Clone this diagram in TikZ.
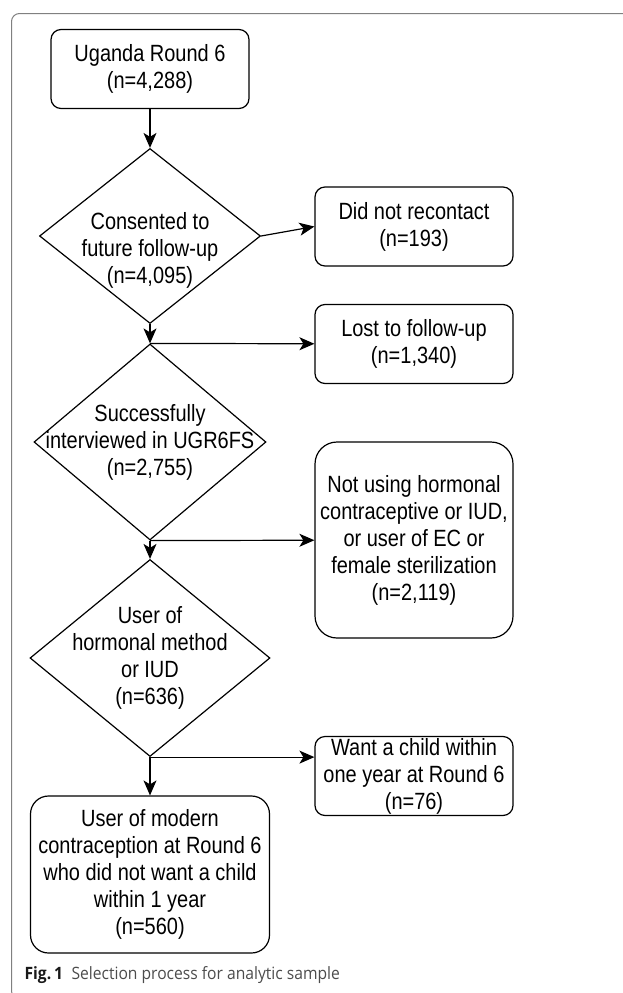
\documentclass[tikz,border=0pt]{standalone}
\usepackage{fontspec}
\newfontfamily\chartfont{Liberation Sans}[FakeStretch=0.85]
\newfontfamily\capfont{Open Sans}[FakeStretch=0.92]
\usetikzlibrary{shapes.geometric, arrows.meta, positioning}

\begin{document}
\begin{tikzpicture}[x=1pt, y=1pt, on grid, auto, line width=1.2pt,
    >={Stealth[length=15pt, width=13pt, inset=4pt]},
    txt/.style={align=center, inner sep=0pt, font=\chartfont\fontsize{23.5}{27}\selectfont},
    box/.style={txt, draw, rounded corners=10pt, minimum width=198pt, minimum height=79pt},
    decision/.style={draw, diamond, inner sep=0pt, aspect=1}]
  \useasboundingbox (0,0) rectangle (622,-993);
  \draw[gray, line width=1pt, rounded corners=8pt] (11.5,-13.5) rectangle (680,-999);

  \node[box] (r6) at (150,-69) {Uganda Round 6\\(n=4,288)};
  \node[decision, minimum width=221pt, minimum height=175pt,
    label={[txt, yshift=-14pt]center:Consented to\\future follow-up\\(n=4,095)}] (d1) [below=167pt of r6] {};
  \node[decision, minimum width=232pt, minimum height=196pt,
    label={[txt]center:Successfully\\interviewed in UGR6FS\\(n=2,755)}] (d2) [below=206pt of d1] {};
  \node[decision, minimum width=240pt, minimum height=197pt,
    label={[txt]center:User of\\hormonal method\\or IUD\\(n=636)}] (d3) [below=216pt of d2] {};
  \node[box, minimum width=239pt, minimum height=157pt, rounded corners=18pt] (final) [below=216.5pt of d3]
    {User of modern\\contraception at Round 6\\who did not want a child\\within 1 year\\(n=560)};

  \node[box] (recontact) [above right=9.5pt and 264pt of d1] {Did not recontact\\(n=193)};
  \node[box] (lost) [above right=98pt and 264pt of d2] {Lost to follow-up\\(n=1,340)};
  \node[box, minimum height=196pt, rounded corners=22pt] (notusing) [below right=98pt and 264pt of d2]
    {Not using hormonal\\contraceptive or IUD,\\or user of EC or\\female sterilization\\(n=2,119)};
  \node[box] (want) [below right=118pt and 264pt of d3] {Want a child within\\one year at Round 6\\(n=76)};
  \coordinate (wantin) at (d3.south -| want.west);

  \path[->]
  (r6) edge (d1)
  (d1) edge (d2)
  (d2) edge (d3)
  (d3) edge (final)
  (d1.east) edge (recontact.west)
  (d2.north) edge (lost)
  (d2.south) edge (notusing)
  (d3.south) edge (wantin);

  \node[anchor=base west, inner sep=0pt, font=\capfont\fontsize{17}{20}\selectfont, text=black!70] (caption) at (24,-979)
    {{\bfseries\color{black!90}Fig.\,1}\hspace{0.5em}Selection process for analytic sample};
\end{tikzpicture}
\end{document}
